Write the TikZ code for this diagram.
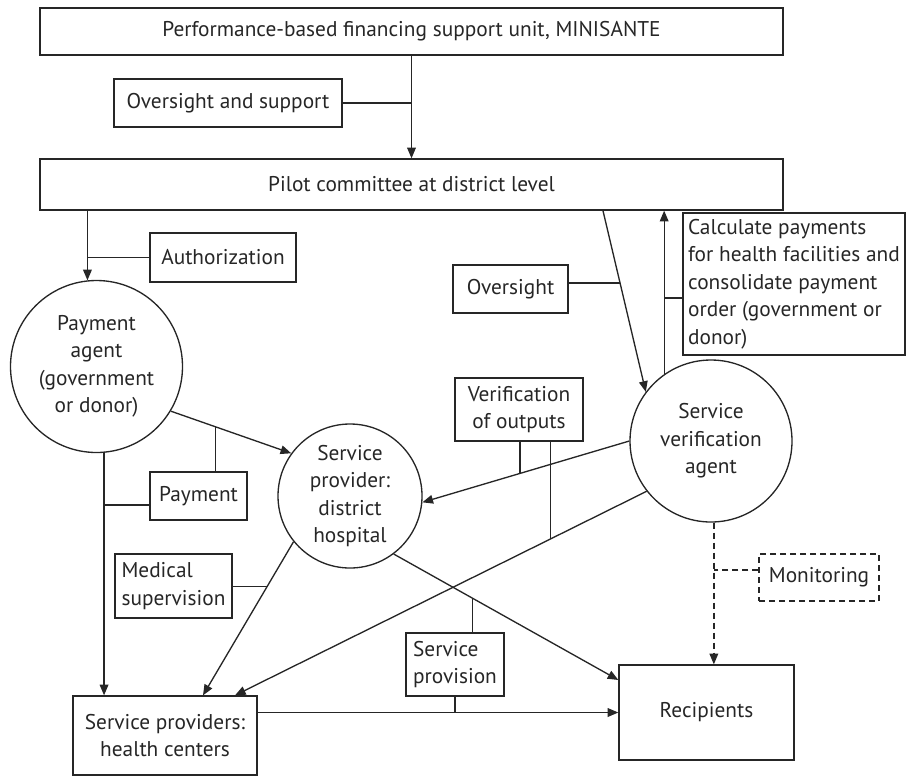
\documentclass[tikz,border=0pt]{standalone}
\usepackage{fontspec}
\setmainfont{PT Sans}
\usetikzlibrary{arrows.meta,calc}
\newcommand\dgfont{\fontsize{16}{20.6}\selectfont}
\colorlet{ink}{black!85}
\begin{document}
\begin{tikzpicture}[x=0.75pt,y=-0.75pt,
  box/.style={draw=ink, rectangle, inner sep=0pt, align=center, text=ink, font=\dgfont, line width=1pt},
  ring/.style={draw=ink, circle, inner sep=0pt, align=center, text=ink, font=\dgfont, line width=1pt},
  link/.style={draw=ink, line width=1pt},
  longdash/.style={dash pattern=on 4.5pt off 3pt},
  arr/.style={link, -{Triangle[length=8pt,width=6.5pt]}}]
\useasboundingbox (0,0) rectangle (906,776);

% boxes and agents
\node[box, minimum width=557.25pt, minimum height=35.25pt] (top) at (411.5,31.5)
  {Performance-based financing support unit, MINISANTE};
\node[box, minimum width=171pt, minimum height=36pt] (osup) at (228,103) {Oversight and support};
\node[box, minimum width=557.25pt, minimum height=38.25pt] (pilot) at (411.5,184.5)
  {Pilot committee at district level};
\node[box, minimum width=109.5pt, minimum height=36.75pt] (auth) at (223,257.5) {Authorization};
\node[ring, minimum size=129pt] (pa) at (96.5,366.5) {Payment\\agent\\(government\\or donor)};
\node[box, minimum width=86.25pt, minimum height=36pt] (over) at (510.5,289) {Oversight};
\node[box, align=left, minimum width=166.5pt, minimum height=106.5pt] (calc) at (794,284)
  {Calculate payments\\for health facilities and\\consolidate payment\\order (government or\\donor)};
\node[box, minimum width=96pt, minimum height=47.25pt] (verout) at (519,409.5) {Verification\\of outputs};
\node[ring, minimum size=121.5pt] (sva) at (711,441) {Service\\verification\\agent};
\node[ring, minimum size=108pt] (hosp) at (350,496) {Service\\provider:\\district\\hospital};
\node[box, minimum width=72.75pt, minimum height=36pt] (pay) at (198.5,496) {Payment};
\node[box, align=left, minimum width=87.75pt, minimum height=48pt] (med) at (173.5,586) {Medical\\supervision};
\node[box, longdash, minimum width=90pt, minimum height=35.25pt] (mon) at (819,577.5) {Monitoring};
\node[box, align=left, minimum width=73.5pt, minimum height=47.25pt] (sprov) at (455,664.5) {Service\\provision};
\node[box, minimum width=138pt, minimum height=59.25pt] (hc) at (165,735.5) {Service providers:\\health centers};
\node[box, minimum width=131.25pt, minimum height=71.25pt] (rec) at (706.5,712.5) {Recipients};

% connector end points
\coordinate (hcA) at ([xshift=28.5pt]hc.north);
\coordinate (hcB) at ([xshift=52.5pt]hc.north);
\coordinate (recA) at ([yshift=24.4pt]rec.west);
\coordinate (ps) at ([xshift=143.6pt]pilot.south);

% oversight from the ministry
\draw[arr] (top.south) -- (pilot.north);
\draw[link] (osup.east) -- (osup.east -| top.south);

% pilot committee to payment agent
\draw[arr] (pa.96 |- pilot.south) -- (pa.96);
\draw[link] (auth.west) -- (auth.west -| pa.96);

% payments
\draw[arr] (pa.-31) -- (hosp.144);
\coordinate (payj) at ($(pa.-31)!0.37!(hosp.144)$);
\draw[link] (payj) -- (payj |- pay.north);
\draw[arr] (pa.-85) -- (pa.-85 |- hc.north);
\draw[link] ([yshift=-6.75pt]pay.west) -- ([yshift=-6.75pt]pay.west -| pa.-85);

% medical supervision
\draw[arr] (hosp.219) -- (hcA);
\coordinate (medj) at ($(hosp.219)!0.29!(hcA)$);
\draw[link] (medj) -- (medj -| med.east);

% verification
\draw[arr] (ps) -- (sva.143);
\coordinate (oj) at ($(ps)!0.40!(sva.143)$);
\draw[link] (oj) -- (oj -| over.east);
\draw[arr] (sva.125) -- (sva.125 |- pilot.south);
\draw[link] ([yshift=-10.5pt]calc.west) -- ([yshift=-10.5pt]calc.west -| sva.125);
\draw[arr] (sva.180) -- (hosp.-5);
\draw[arr] (sva.218) -- (hcB);
\coordinate (vj1) at ($(sva.180)!0.528!(hosp.-5)$);
\coordinate (vj2) at ($(sva.218)!0.233!(hcB)$);
\draw[link] (vj1) -- (vj1 |- verout.south);
\draw[link] (vj2) -- (vj2 |- verout.south);

% monitoring
\draw[arr, longdash] (sva.-88) -- (sva.-88 |- rec.north);
\draw[link, longdash] ([yshift=5.6pt]mon.west) -- ([yshift=5.6pt]mon.west -| sva.-88);

% service provision
\draw[arr] (hosp.-53) -- (recA);
\coordinate (sj) at ($(hosp.-53)!0.35!(recA)$);
\draw[link] (sj) -- (sj |- sprov.north);
\draw[arr] (rec.west -| hc.east) -- (rec.west);
\draw[link] (sprov.south) -- (sprov.south |- rec.west);
\end{tikzpicture}
\end{document}
